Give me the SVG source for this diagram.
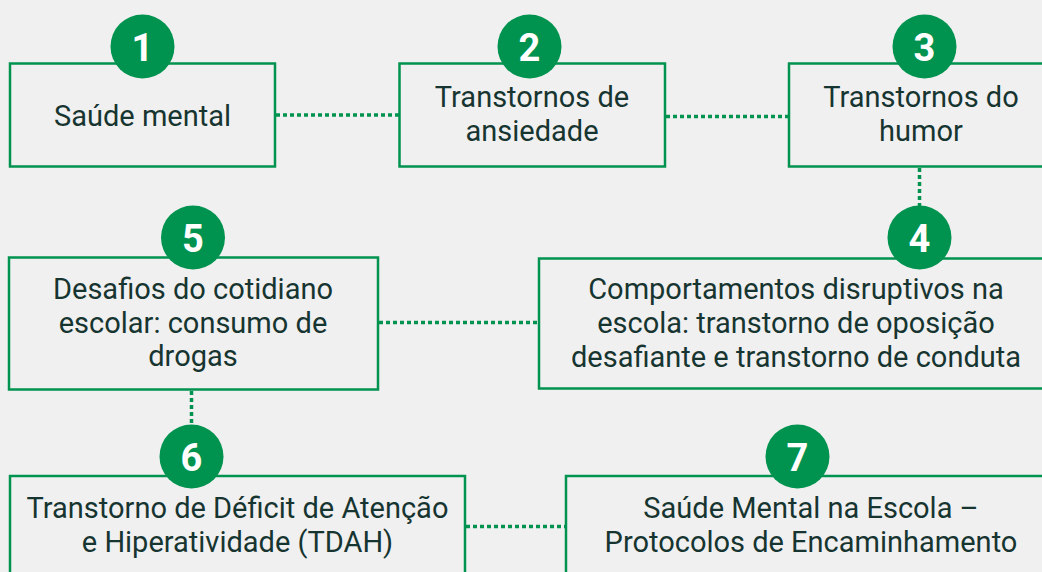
<svg xmlns="http://www.w3.org/2000/svg" width="1042" height="572" viewBox="0 0 1042 572">
<style>
.box{fill:#f0f0f0;stroke:#00934f;stroke-width:2.5}
.badge{fill:#00934f}
.num{font-family:Roboto,"Liberation Sans",sans-serif;font-weight:700;font-size:38px;fill:#ffffff;text-anchor:middle}
.lbl{font-family:Roboto,"Liberation Sans",sans-serif;font-size:29px;fill:#173530;text-anchor:middle}
.con{stroke:#00934f;stroke-width:3.5;stroke-dasharray:4 3;fill:none}
</style>
<rect width="1042" height="572" fill="#f0f0f0"/>
<g id="connectors">
<line class="con" x1="276" y1="115" x2="399" y2="115"/>
<line class="con" x1="666" y1="116.5" x2="789" y2="116.5"/>
<line class="con" x1="919.5" y1="168" x2="919.5" y2="206"/>
<line class="con" x1="379" y1="322.5" x2="538" y2="322.5"/>
<line class="con" x1="191.5" y1="391" x2="191.5" y2="425"/>
<line class="con" x1="466" y1="526.5" x2="566" y2="526.5"/>
</g>
<g id="node1">
<rect class="box" x="10" y="63.5" width="265" height="103"/>
<circle class="badge" cx="142.5" cy="46.5" r="32"/>
<text class="num" x="142.5" y="61">1</text>
<text class="lbl" x="142.5" y="125.5">Saúde mental</text>
</g>
<g id="node2">
<rect class="box" x="399.5" y="63.5" width="265.5" height="103"/>
<circle class="badge" cx="529.5" cy="46.5" r="32"/>
<text class="num" x="529.5" y="61">2</text>
<text class="lbl" x="532" y="106.5">Transtornos de</text>
<text class="lbl" x="532" y="140.5">ansiedade</text>
</g>
<g id="node3">
<rect class="box" x="789" y="63.5" width="266" height="103"/>
<circle class="badge" cx="924.5" cy="46.5" r="32"/>
<text class="num" x="924.5" y="61">3</text>
<text class="lbl" x="921" y="106.5">Transtornos do</text>
<text class="lbl" x="921" y="140.5">humor</text>
</g>
<g id="node4">
<rect class="box" x="539" y="258.5" width="516" height="130"/>
<circle class="badge" cx="919.5" cy="237.5" r="32"/>
<text class="num" x="919.5" y="252">4</text>
<text class="lbl" x="796" y="299">Comportamentos disruptivos na</text>
<text class="lbl" x="796" y="333">escola: transtorno de oposição</text>
<text class="lbl" x="796" y="367">desafiante e transtorno de conduta</text>
</g>
<g id="node5">
<rect class="box" x="9" y="257.5" width="369" height="132"/>
<circle class="badge" cx="193" cy="237.5" r="32"/>
<text class="num" x="193" y="252">5</text>
<text class="lbl" x="193" y="298.5">Desafios do cotidiano</text>
<text class="lbl" x="193" y="332.5">escolar: consumo de</text>
<text class="lbl" x="193" y="366">drogas</text>
</g>
<g id="node6">
<rect class="box" x="10" y="476" width="455" height="110"/>
<circle class="badge" cx="191.5" cy="456.5" r="32"/>
<text class="num" x="191.5" y="471">6</text>
<text class="lbl" x="237.5" y="518">Transtorno de Déficit de Atenção</text>
<text class="lbl" x="237.5" y="552">e Hiperatividade (TDAH)</text>
</g>
<g id="node7">
<rect class="box" x="566" y="476" width="490" height="110"/>
<circle class="badge" cx="797.5" cy="456.5" r="32"/>
<text class="num" x="797.5" y="471">7</text>
<text class="lbl" x="811" y="518">Saúde Mental na Escola –</text>
<text class="lbl" x="811" y="552">Protocolos de Encaminhamento</text>
</g>
</svg>
